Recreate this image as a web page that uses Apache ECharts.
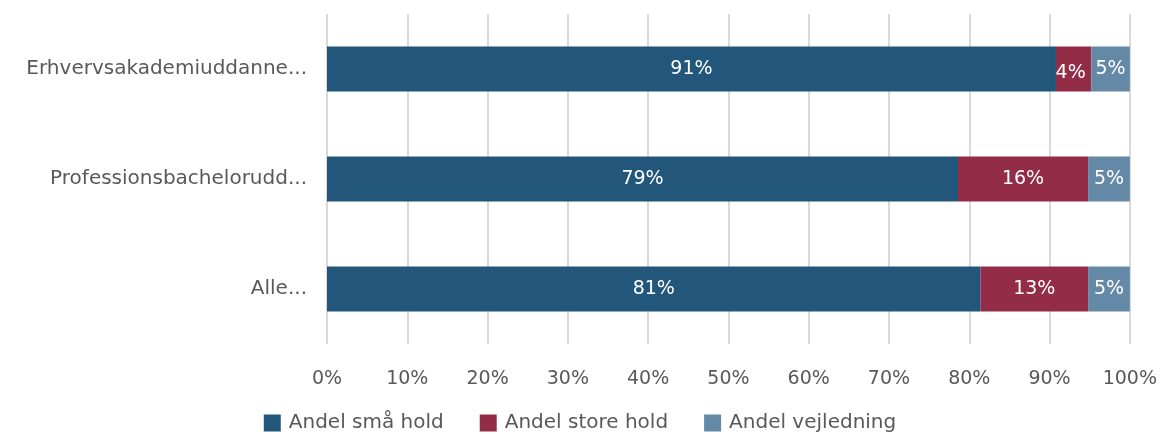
<!DOCTYPE html>
<html>
<head>
<meta charset="utf-8">
<script src="https://cdn.jsdelivr.net/npm/echarts@6/dist/echarts.min.js"></script>
<style>
  html, body { margin: 0; padding: 0; background: #fff; }
  #chart { width: 1160px; height: 434px; }
</style>
</head>
<body>
<div id="chart"></div>
<script>
// Categories listed bottom to top (category axis on y starts at the bottom)
const categories = ['Alle...', 'Professionsbacheloruddannelser', 'Erhvervsakademiuddannelser'];
const seriesNames = ['Andel små hold', 'Andel store hold', 'Andel vejledning'];
const smaaHold = [81.4, 78.6, 90.8];
const storeHold = [13.4, 16.2, 4.4];
const vejledning = [5.2, 5.2, 4.8];
const xTicks = [0, 10, 20, 30, 40, 50, 60, 70, 80, 90, 100];

const colors = ['#22577b', '#922c47', '#6489a7'];
const font = 'DejaVu Sans';
const textColor = '#595959';

function truncate(s) {
  if (s === 'Alle...') return s;
  if (s.startsWith('Erhvervs')) return 'Erhvervsakademiuddanne...';
  if (s.startsWith('Professions')) return 'Professionsbacheloruddd...'.replace('uddd', 'udd');
  return s;
}

const values = [smaaHold, storeHold, vejledning];

const chart = echarts.init(document.getElementById('chart'), null, { renderer: 'canvas' });
chart.setOption({
  animation: false,
  textStyle: { fontFamily: font },
  grid: { left: 327, right: 29, top: 14, bottom: 90, containLabel: false },
  legend: {
    bottom: -4,
    left: 'center',
    itemWidth: 17,
    itemHeight: 17,
    itemGap: 36,
    icon: 'rect',
    textStyle: { color: textColor, fontSize: 20, fontFamily: font, padding: [0, 0, 0, 3] },
    data: seriesNames
  },
  xAxis: {
    type: 'value',
    min: 0,
    max: 100,
    interval: 10,
    axisLine: { show: false },
    axisTick: { show: false },
    splitLine: { show: true, lineStyle: { color: '#d9d9d9', width: 2 } },
    axisLabel: {
      color: textColor,
      fontSize: 19,
      margin: 26,
      formatter: v => xTicks.includes(v) ? v + '%' : ''
    }
  },
  yAxis: {
    type: 'category',
    data: categories,
    axisLine: { show: false },
    axisTick: { show: false },
    axisLabel: {
      color: textColor,
      fontSize: 20,
      margin: 20,
      formatter: truncate
    }
  },
  series: seriesNames.map((name, i) => ({
    name,
    type: 'bar',
    stack: 'total',
    barWidth: 45,
    itemStyle: { color: colors[i] },
    label: {
      show: true,
      position: 'inside',
      color: '#fff',
      fontSize: 19,
      fontFamily: font,
      formatter: p => Math.round(p.value) + '%'
    },
    labelLayout: p => (i === 1 && p.dataIndex === 2) ? { dx: -3, dy: 4 } : {},
    data: values[i]
  }))
});
</script>
</body>
</html>
